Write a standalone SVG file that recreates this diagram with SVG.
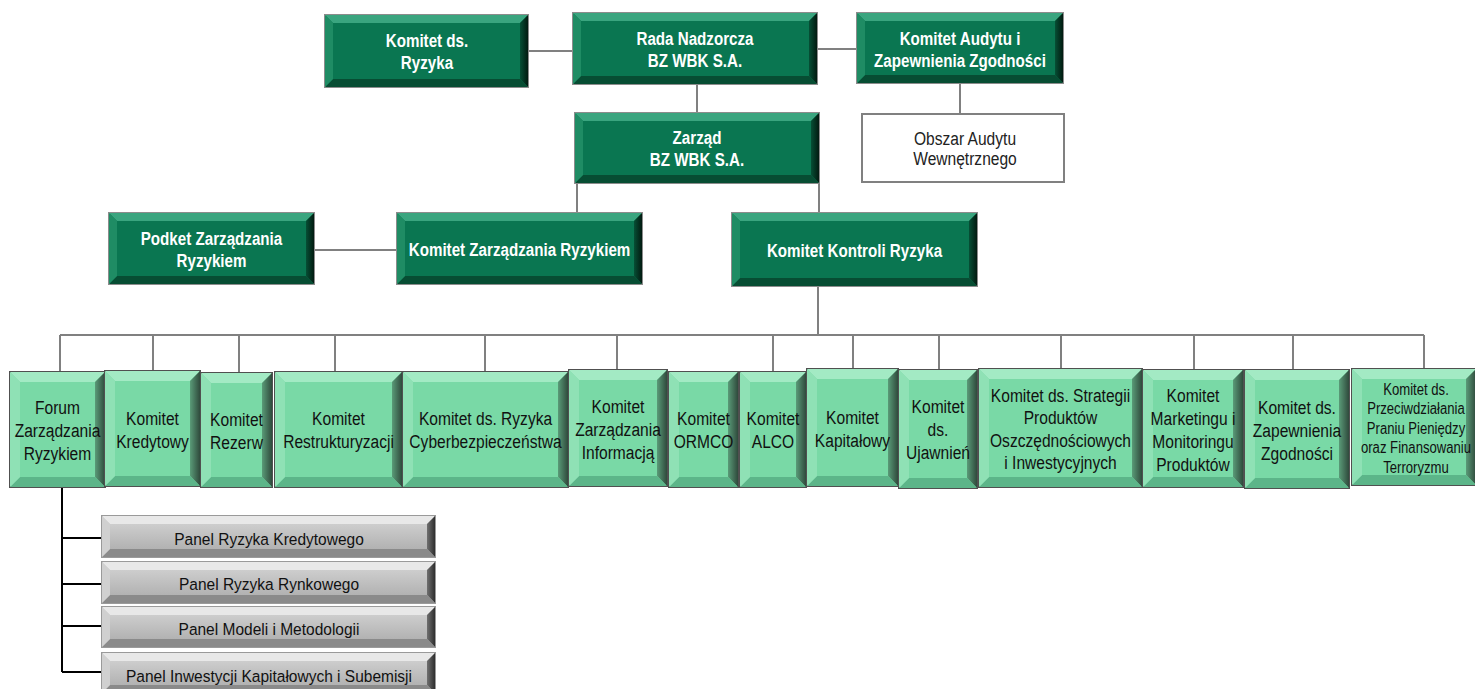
<svg xmlns="http://www.w3.org/2000/svg" width="1475" height="689" viewBox="0 0 1475 689">
<defs>
<linearGradient id="pg" x1="0" y1="0" x2="0" y2="1"><stop offset="0" stop-color="#d6d6d6"/><stop offset="1" stop-color="#a9a9a9"/></linearGradient>
<linearGradient id="lr" x1="0" y1="0" x2="1" y2="0"><stop offset="0" stop-color="#5a9b78"/><stop offset="1" stop-color="#2f4a3c"/></linearGradient>
<linearGradient id="dr" x1="0" y1="0" x2="1" y2="0"><stop offset="0" stop-color="#064f35"/><stop offset="1" stop-color="#021a10"/></linearGradient>
<linearGradient id="pr" x1="0" y1="0" x2="1" y2="0"><stop offset="0" stop-color="#707070"/><stop offset="1" stop-color="#2e2e2e"/></linearGradient>
</defs>
<style>
.dk .f{fill:#0a7651;stroke:#8c8c8c;stroke-width:2}
.dk .t{fill:#3aa57f}.dk .l{fill:#1f8c64}.dk .r{fill:url(#dr)}.dk .b{fill:#074d33}
.lt .f{fill:#79d9a6;stroke:#505050;stroke-width:2}
.lt .t{fill:#a3eac4}.lt .l{fill:#8fe1b5}.lt .r{fill:url(#lr)}.lt .b{fill:#5cb589}
.pn .f{fill:url(#pg);stroke:#9a9a9a;stroke-width:2}
.pn .t{fill:#e8e8e8}.pn .l{fill:#d0d0d0}.pn .r{fill:url(#pr)}.pn .b{fill:#8a8a8a}
.wt{font-family:"Liberation Sans",Arial,sans-serif;font-weight:bold;font-size:18.5px;fill:#fff;text-anchor:middle}
.bt{font-family:"Liberation Sans",Arial,sans-serif;font-size:19px;fill:#111;text-anchor:middle}
.st{font-size:16px}
.pt{font-family:"Liberation Sans",Arial,sans-serif;font-size:16.5px;fill:#111;text-anchor:middle}
.c{stroke:#808080;stroke-width:2;fill:none}
.k{stroke:#000;stroke-width:2;fill:none}
</style>

<g id="connectors">
<path class="c" d="M528,51 H573 M817,49 H857 M697,84 V113 M960,83 V114 M577,183 V213 M819,183 V213 M314,250 H397 M818,286 V335 M60,335 H1424"/>
<path class="c" d="M60,335 V372 M153,335 V371 M239,335 V373 M335,335 V372 M485,335 V372 M617,335 V370 M773,335 V372 M853,335 V369 M939,335 V370 M1061,335 V369 M1194,335 V370 M1293,335 V370 M1424,335 V369"/>
<path class="k" d="M62,487 V672 M62,538 H102 M62,584 H102 M62,626 H102 M62,672 H102"/>
</g>

<g id="komitet-ryzyka" class="dk">
<rect class="f" x="325" y="15" width="203" height="72"/>
<path class="t" d="M325,15 H528 L520,23 H333 Z"/><path class="r" d="M528,15 V87 L520,79 V23 Z"/><path class="b" d="M325,87 H528 L520,79 H333 Z"/><path class="l" d="M325,15 V87 L333,79 V23 Z"/>
<text class="wt" transform="translate(427 0) scale(0.82 1)"><tspan x="0" y="47">Komitet ds.</tspan><tspan x="0" y="69">Ryzyka</tspan></text>
</g>

<g id="rada" class="dk">
<rect class="f" x="573" y="13" width="244" height="71"/>
<path class="t" d="M573,13 H817 L809,21 H581 Z"/><path class="r" d="M817,13 V84 L809,76 V21 Z"/><path class="b" d="M573,84 H817 L809,76 H581 Z"/><path class="l" d="M573,13 V84 L581,76 V21 Z"/>
<text class="wt" transform="translate(695 0) scale(0.82 1)"><tspan x="0" y="45">Rada Nadzorcza</tspan><tspan x="0" y="67">BZ WBK S.A.</tspan></text>
</g>

<g id="komitet-audytu" class="dk">
<rect class="f" x="857" y="13" width="206" height="70"/>
<path class="t" d="M857,13 H1063 L1055,21 H865 Z"/><path class="r" d="M1063,13 V83 L1055,75 V21 Z"/><path class="b" d="M857,83 H1063 L1055,75 H865 Z"/><path class="l" d="M857,13 V83 L865,75 V21 Z"/>
<text class="wt" transform="translate(960 0) scale(0.82 1)"><tspan x="0" y="45">Komitet Audytu i</tspan><tspan x="0" y="67">Zapewnienia Zgodności</tspan></text>
</g>

<g id="obszar-audytu">
<rect x="862" y="114" width="202" height="68" fill="#fff" stroke="#808080" stroke-width="2"/>
<text class="bt" transform="translate(965 0) scale(0.82 1)" style="fill:#222"><tspan x="0" y="145">Obszar Audytu</tspan><tspan x="0" y="165">Wewnętrznego</tspan></text>
</g>

<g id="zarzad" class="dk">
<rect class="f" x="575" y="113" width="244" height="70"/>
<path class="t" d="M575,113 H819 L811,121 H583 Z"/><path class="r" d="M819,113 V183 L811,175 V121 Z"/><path class="b" d="M575,183 H819 L811,175 H583 Z"/><path class="l" d="M575,113 V183 L583,175 V121 Z"/>
<text class="wt" transform="translate(697 0) scale(0.82 1)"><tspan x="0" y="144">Zarząd</tspan><tspan x="0" y="166">BZ WBK S.A.</tspan></text>
</g>

<g id="podket" class="dk">
<rect class="f" x="109" y="213" width="205" height="71"/>
<path class="t" d="M109,213 H314 L306,221 H117 Z"/><path class="r" d="M314,213 V284 L306,276 V221 Z"/><path class="b" d="M109,284 H314 L306,276 H117 Z"/><path class="l" d="M109,213 V284 L117,276 V221 Z"/>
<text class="wt" transform="translate(211.5 0) scale(0.82 1)"><tspan x="0" y="245">Podket Zarządzania</tspan><tspan x="0" y="267">Ryzykiem</tspan></text>
</g>

<g id="komitet-zarzadzania-ryzykiem" class="dk">
<rect class="f" x="397" y="213" width="245" height="71"/>
<path class="t" d="M397,213 H642 L634,221 H405 Z"/><path class="r" d="M642,213 V284 L634,276 V221 Z"/><path class="b" d="M397,284 H642 L634,276 H405 Z"/><path class="l" d="M397,213 V284 L405,276 V221 Z"/>
<text class="wt" transform="translate(519.5 0) scale(0.82 1)"><tspan x="0" y="256">Komitet Zarządzania Ryzykiem</tspan></text>
</g>

<g id="komitet-kontroli-ryzyka" class="dk">
<rect class="f" x="732" y="213" width="245" height="73"/>
<path class="t" d="M732,213 H977 L969,221 H740 Z"/><path class="r" d="M977,213 V286 L969,278 V221 Z"/><path class="b" d="M732,286 H977 L969,278 H740 Z"/><path class="l" d="M732,213 V286 L740,278 V221 Z"/>
<text class="wt" transform="translate(854.5 0) scale(0.82 1)"><tspan x="0" y="257">Komitet Kontroli Ryzyka</tspan></text>
</g>

<g id="forum" class="lt">
<rect class="f" x="10" y="372" width="95" height="115"/>
<path class="t" d="M10,372 H105 L95,382 H20 Z"/><path class="r" d="M105,372 V487 L95,477 V382 Z"/><path class="b" d="M10,487 H105 L95,477 H20 Z"/><path class="l" d="M10,372 V487 L20,477 V382 Z"/>
<text class="bt" transform="translate(57.5 0) scale(0.82 1)"><tspan x="0" y="414">Forum</tspan><tspan x="0" y="437">Zarządzania</tspan><tspan x="0" y="460">Ryzykiem</tspan></text>
</g>

<g id="kredytowy" class="lt">
<rect class="f" x="105" y="371" width="95" height="115"/>
<path class="t" d="M105,371 H200 L190,381 H115 Z"/><path class="r" d="M200,371 V486 L190,476 V381 Z"/><path class="b" d="M105,486 H200 L190,476 H115 Z"/><path class="l" d="M105,371 V486 L115,476 V381 Z"/>
<text class="bt" transform="translate(152.5 0) scale(0.82 1)"><tspan x="0" y="425">Komitet</tspan><tspan x="0" y="448">Kredytowy</tspan></text>
</g>

<g id="rezerw" class="lt">
<rect class="f" x="201" y="373" width="71" height="114"/>
<path class="t" d="M201,373 H272 L262,383 H211 Z"/><path class="r" d="M272,373 V487 L262,477 V383 Z"/><path class="b" d="M201,487 H272 L262,477 H211 Z"/><path class="l" d="M201,373 V487 L211,477 V383 Z"/>
<text class="bt" transform="translate(236.5 0) scale(0.82 1)"><tspan x="0" y="426">Komitet</tspan><tspan x="0" y="449">Rezerw</tspan></text>
</g>

<g id="restrukturyzacji" class="lt">
<rect class="f" x="275" y="372" width="127" height="115"/>
<path class="t" d="M275,372 H402 L392,382 H285 Z"/><path class="r" d="M402,372 V487 L392,477 V382 Z"/><path class="b" d="M275,487 H402 L392,477 H285 Z"/><path class="l" d="M275,372 V487 L285,477 V382 Z"/>
<text class="bt" transform="translate(338.5 0) scale(0.82 1)"><tspan x="0" y="425">Komitet</tspan><tspan x="0" y="448">Restrukturyzacji</tspan></text>
</g>

<g id="cyber" class="lt">
<rect class="f" x="403" y="372" width="165" height="115"/>
<path class="t" d="M403,372 H568 L558,382 H413 Z"/><path class="r" d="M568,372 V487 L558,477 V382 Z"/><path class="b" d="M403,487 H568 L558,477 H413 Z"/><path class="l" d="M403,372 V487 L413,477 V382 Z"/>
<text class="bt" transform="translate(485.5 0) scale(0.82 1)"><tspan x="0" y="425">Komitet ds. Ryzyka</tspan><tspan x="0" y="448">Cyberbezpieczeństwa</tspan></text>
</g>

<g id="informacja" class="lt">
<rect class="f" x="569" y="370" width="98" height="116"/>
<path class="t" d="M569,370 H667 L657,380 H579 Z"/><path class="r" d="M667,370 V486 L657,476 V380 Z"/><path class="b" d="M569,486 H667 L657,476 H579 Z"/><path class="l" d="M569,370 V486 L579,476 V380 Z"/>
<text class="bt" transform="translate(618 0) scale(0.82 1)"><tspan x="0" y="413">Komitet</tspan><tspan x="0" y="436">Zarządzania</tspan><tspan x="0" y="459">Informacją</tspan></text>
</g>

<g id="ormco" class="lt">
<rect class="f" x="669" y="372" width="69" height="115"/>
<path class="t" d="M669,372 H738 L728,382 H679 Z"/><path class="r" d="M738,372 V487 L728,477 V382 Z"/><path class="b" d="M669,487 H738 L728,477 H679 Z"/><path class="l" d="M669,372 V487 L679,477 V382 Z"/>
<text class="bt" transform="translate(703.5 0) scale(0.82 1)"><tspan x="0" y="425">Komitet</tspan><tspan x="0" y="448">ORMCO</tspan></text>
</g>

<g id="alco" class="lt">
<rect class="f" x="740" y="372" width="66" height="115"/>
<path class="t" d="M740,372 H806 L796,382 H750 Z"/><path class="r" d="M806,372 V487 L796,477 V382 Z"/><path class="b" d="M740,487 H806 L796,477 H750 Z"/><path class="l" d="M740,372 V487 L750,477 V382 Z"/>
<text class="bt" transform="translate(773 0) scale(0.82 1)"><tspan x="0" y="425">Komitet</tspan><tspan x="0" y="448">ALCO</tspan></text>
</g>

<g id="kapitalowy" class="lt">
<rect class="f" x="807" y="369" width="91" height="117"/>
<path class="t" d="M807,369 H898 L888,379 H817 Z"/><path class="r" d="M898,369 V486 L888,476 V379 Z"/><path class="b" d="M807,486 H898 L888,476 H817 Z"/><path class="l" d="M807,369 V486 L817,476 V379 Z"/>
<text class="bt" transform="translate(852.5 0) scale(0.82 1)"><tspan x="0" y="424">Komitet</tspan><tspan x="0" y="447">Kapitałowy</tspan></text>
</g>

<g id="ujawnien" class="lt">
<rect class="f" x="899" y="370" width="78" height="118"/>
<path class="t" d="M899,370 H977 L967,380 H909 Z"/><path class="r" d="M977,370 V488 L967,478 V380 Z"/><path class="b" d="M899,488 H977 L967,478 H909 Z"/><path class="l" d="M899,370 V488 L909,478 V380 Z"/>
<text class="bt" transform="translate(938 0) scale(0.82 1)"><tspan x="0" y="413">Komitet</tspan><tspan x="0" y="436">ds.</tspan><tspan x="0" y="459">Ujawnień</tspan></text>
</g>

<g id="strategii" class="lt">
<rect class="f" x="979" y="369" width="163" height="118"/>
<path class="t" d="M979,369 H1142 L1132,379 H989 Z"/><path class="r" d="M1142,369 V487 L1132,477 V379 Z"/><path class="b" d="M979,487 H1142 L1132,477 H989 Z"/><path class="l" d="M979,369 V487 L989,477 V379 Z"/>
<text class="bt" transform="translate(1060.5 0) scale(0.82 1)"><tspan x="0" y="402">Komitet ds. Strategii</tspan><tspan x="0" y="424.5">Produktów</tspan><tspan x="0" y="447">Oszczędnościowych</tspan><tspan x="0" y="469.5">i Inwestycyjnych</tspan></text>
</g>

<g id="marketingu" class="lt">
<rect class="f" x="1143" y="370" width="100" height="117"/>
<path class="t" d="M1143,370 H1243 L1233,380 H1153 Z"/><path class="r" d="M1243,370 V487 L1233,477 V380 Z"/><path class="b" d="M1143,487 H1243 L1233,477 H1153 Z"/><path class="l" d="M1143,370 V487 L1153,477 V380 Z"/>
<text class="bt" transform="translate(1193 0) scale(0.82 1)"><tspan x="0" y="402">Komitet</tspan><tspan x="0" y="425">Marketingu i</tspan><tspan x="0" y="448">Monitoringu</tspan><tspan x="0" y="471">Produktów</tspan></text>
</g>

<g id="zapewnienia" class="lt">
<rect class="f" x="1245" y="370" width="104" height="118"/>
<path class="t" d="M1245,370 H1349 L1339,380 H1255 Z"/><path class="r" d="M1349,370 V488 L1339,478 V380 Z"/><path class="b" d="M1245,488 H1349 L1339,478 H1255 Z"/><path class="l" d="M1245,370 V488 L1255,478 V380 Z"/>
<text class="bt" transform="translate(1297 0) scale(0.82 1)"><tspan x="0" y="414">Komitet ds.</tspan><tspan x="0" y="437">Zapewnienia</tspan><tspan x="0" y="460">Zgodności</tspan></text>
</g>

<g id="przeciwdzialania" class="lt">
<rect class="f" x="1352" y="369" width="124" height="116"/>
<path class="t" d="M1352,369 H1476 L1466,379 H1362 Z"/><path class="r" d="M1476,369 V485 L1466,475 V379 Z"/><path class="b" d="M1352,485 H1476 L1466,475 H1362 Z"/><path class="l" d="M1352,369 V485 L1362,475 V379 Z"/>
<text class="bt st" transform="translate(1416 0) scale(0.82 1)"><tspan x="0" y="395">Komitet ds.</tspan><tspan x="0" y="414.5">Przeciwdziałania</tspan><tspan x="0" y="434">Praniu Pieniędzy</tspan><tspan x="0" y="453.5">oraz Finansowaniu</tspan><tspan x="0" y="473">Terroryzmu</tspan></text>
</g>

<g id="panel-kredytowy" class="pn">
<rect class="f" x="102" y="516" width="333" height="41"/>
<path class="t" d="M102,516 H435 L427,524 H110 Z"/><path class="r" d="M435,516 V557 L427,549 V524 Z"/><path class="b" d="M102,557 H435 L427,549 H110 Z"/><path class="l" d="M102,516 V557 L110,549 V524 Z"/>
<text class="pt" transform="translate(269 0) scale(0.94 1)"><tspan x="0" y="545">Panel Ryzyka Kredytowego</tspan></text>
</g>

<g id="panel-rynkowy" class="pn">
<rect class="f" x="102" y="562" width="333" height="41"/>
<path class="t" d="M102,562 H435 L427,570 H110 Z"/><path class="r" d="M435,562 V603 L427,595 V570 Z"/><path class="b" d="M102,603 H435 L427,595 H110 Z"/><path class="l" d="M102,562 V603 L110,595 V570 Z"/>
<text class="pt" transform="translate(269 0) scale(0.94 1)"><tspan x="0" y="590">Panel Ryzyka Rynkowego</tspan></text>
</g>

<g id="panel-modeli" class="pn">
<rect class="f" x="102" y="607" width="333" height="40"/>
<path class="t" d="M102,607 H435 L427,615 H110 Z"/><path class="r" d="M435,607 V647 L427,639 V615 Z"/><path class="b" d="M102,647 H435 L427,639 H110 Z"/><path class="l" d="M102,607 V647 L110,639 V615 Z"/>
<text class="pt" transform="translate(269 0) scale(0.94 1)"><tspan x="0" y="635">Panel Modeli i Metodologii</tspan></text>
</g>

<g id="panel-inwestycji" class="pn">
<rect class="f" x="102" y="653" width="333" height="40"/>
<path class="t" d="M102,653 H435 L427,661 H110 Z"/><path class="r" d="M435,653 V693 L427,685 V661 Z"/><path class="b" d="M102,693 H435 L427,685 H110 Z"/><path class="l" d="M102,653 V693 L110,685 V661 Z"/>
<text class="pt" transform="translate(269 0) scale(0.94 1)"><tspan x="0" y="682">Panel Inwestycji Kapitałowych i Subemisji</tspan></text>
</g>
</svg>
